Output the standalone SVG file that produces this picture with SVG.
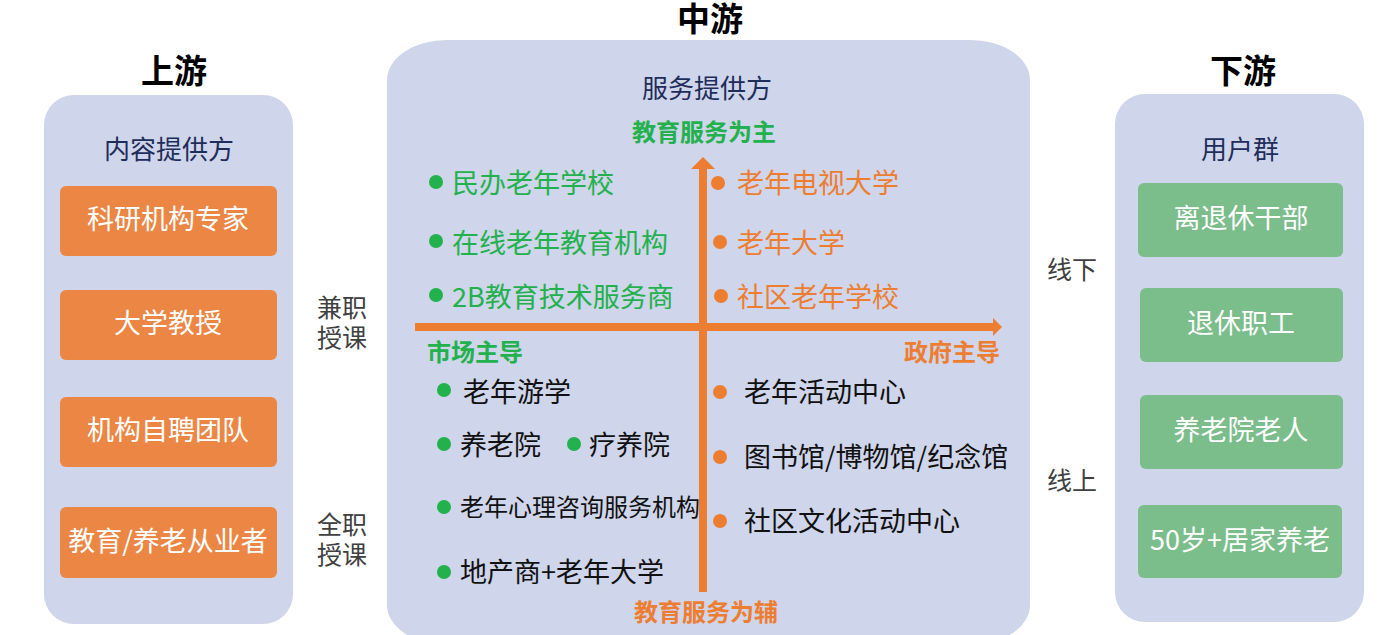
<svg xmlns="http://www.w3.org/2000/svg" width="1391" height="635" viewBox="0 0 1391 635">
<defs>
<style>
text{font-family:"Noto Sans CJK SC","Noto Sans",sans-serif;dominant-baseline:central}
.title{font-family:"Liberation Sans","Noto Sans CJK SC",sans-serif;font-size:33px;font-weight:bold;fill:#000;text-anchor:middle}
.panel{fill:#CFD5EA}
.head{font-size:26px;fill:#1F2D5A;text-anchor:middle}
.obox{fill:#EC8644}
.gbox{fill:#7BBD8B}
.btxt{font-size:27px;fill:#fff;text-anchor:middle}
.side{font-family:"Liberation Sans","Noto Sans CJK SC",sans-serif;font-size:25px;fill:#404040}
.g{fill:#22B14C}
.o{fill:#ED7D31}
.it{font-size:27px}
.k{fill:#111}
.axl{font-size:24px;font-weight:bold}
.ax{stroke:#ED7D31;stroke-width:8;fill:none}
</style>
</defs>
<g id="upstream">
<text class="title" x="174" y="71">上游</text>
<rect class="panel" x="44" y="95" width="249" height="529" rx="30" ry="30"/>
<text class="head" x="169" y="147">内容提供方</text>
<g id="u1"><rect class="obox" x="60" y="186" width="217" height="70" rx="6"/><text class="btxt" x="168" y="217">科研机构专家</text></g>
<g id="u2"><rect class="obox" x="60" y="290" width="217" height="70" rx="6"/><text class="btxt" x="168" y="321">大学教授</text></g>
<g id="u3"><rect class="obox" x="60" y="397" width="217" height="70" rx="6"/><text class="btxt" x="168" y="428">机构自聘团队</text></g>
<g id="u4"><rect class="obox" x="60" y="507" width="217" height="71" rx="6"/><text class="btxt" x="168" y="539">教育/养老从业者</text></g>
</g>
<g id="labels-left">
<text class="side" x="317" y="308">兼职<tspan x="317" dy="29.5">授课</tspan></text>
<text class="side" x="317" y="525">全职<tspan x="317" dy="30">授课</tspan></text>
</g>
<g id="midstream">
<text class="title" x="710" y="19">中游</text>
<rect class="panel" x="387" y="40" width="643" height="605" rx="60" ry="40"/>
<text class="head" x="707" y="86">服务提供方</text>
<text class="axl g" x="704" y="130" text-anchor="middle">教育服务为主</text>
<text class="axl g" x="427" y="350">市场主导</text>
<text class="axl o" x="1000" y="350" text-anchor="end">政府主导</text>
<text class="axl o" x="706" y="610" text-anchor="middle">教育服务为辅</text>
</g>
<g id="connectors">
<line class="ax" x1="703" y1="592" x2="703" y2="166"/>
<polygon class="o" points="703,157 715,169 691,169"/>
<line class="ax" x1="415" y1="327" x2="994" y2="327"/>
<polygon class="o" points="1002,327 993,318 993,336"/>
</g>
<g id="q1">
<circle class="g" cx="436" cy="182" r="7"/><text class="it g" x="452" y="181">民办老年学校</text>
<circle class="g" cx="436" cy="241" r="7"/><text class="it g" x="452" y="241">在线老年教育机构</text>
<circle class="g" cx="436" cy="295" r="7"/><text class="it g" x="452" y="295">2B教育技术服务商</text>
</g>
<g id="q2">
<circle class="o" cx="718" cy="183" r="7"/><text class="it o" x="737" y="181">老年电视大学</text>
<circle class="o" cx="720" cy="242" r="7"/><text class="it o" x="737" y="241">老年大学</text>
<circle class="o" cx="721" cy="296" r="7"/><text class="it o" x="737" y="295">社区老年学校</text>
</g>
<g id="q3">
<circle class="g" cx="444" cy="390" r="7"/><text class="it k" x="463" y="390">老年游学</text>
<circle class="g" cx="444" cy="444" r="7"/><text class="it k" x="460" y="443">养老院</text>
<circle class="g" cx="574" cy="444" r="7"/><text class="it k" x="589" y="443">疗养院</text>
<circle class="g" cx="444" cy="507" r="7"/><text class="k" x="460" y="505" style="font-size:24px">老年心理咨询服务机构</text>
<circle class="g" cx="444" cy="572" r="7"/><text class="it k" x="460" y="570">地产商+老年大学</text>
</g>
<g id="q4">
<circle class="o" cx="720" cy="392" r="7"/><text class="it k" x="744" y="390">老年活动中心</text>
<circle class="o" cx="720" cy="457" r="7"/><text class="it k" x="744" y="455">图书馆/博物馆/纪念馆</text>
<circle class="o" cx="720" cy="521" r="7"/><text class="it k" x="744" y="519">社区文化活动中心</text>
</g>
<g id="labels-right">
<text class="side" x="1047" y="270">线下</text>
<text class="side" x="1047" y="481">线上</text>
</g>
<g id="downstream">
<text class="title" x="1243" y="71">下游</text>
<rect class="panel" x="1115" y="94" width="249" height="528" rx="30" ry="30"/>
<text class="head" x="1240" y="147">用户群</text>
<g id="d1"><rect class="gbox" x="1138" y="183" width="205" height="74" rx="6"/><text class="btxt" x="1241" y="216">离退休干部</text></g>
<g id="d2"><rect class="gbox" x="1140" y="288" width="203" height="74" rx="6"/><text class="btxt" x="1241" y="321">退休职工</text></g>
<g id="d3"><rect class="gbox" x="1140" y="395" width="203" height="74" rx="6"/><text class="btxt" x="1241" y="428">养老院老人</text></g>
<g id="d4"><rect class="gbox" x="1138" y="505" width="204" height="73" rx="6"/><text class="btxt" x="1240" y="538">50岁+居家养老</text></g>
</g>
</svg>
